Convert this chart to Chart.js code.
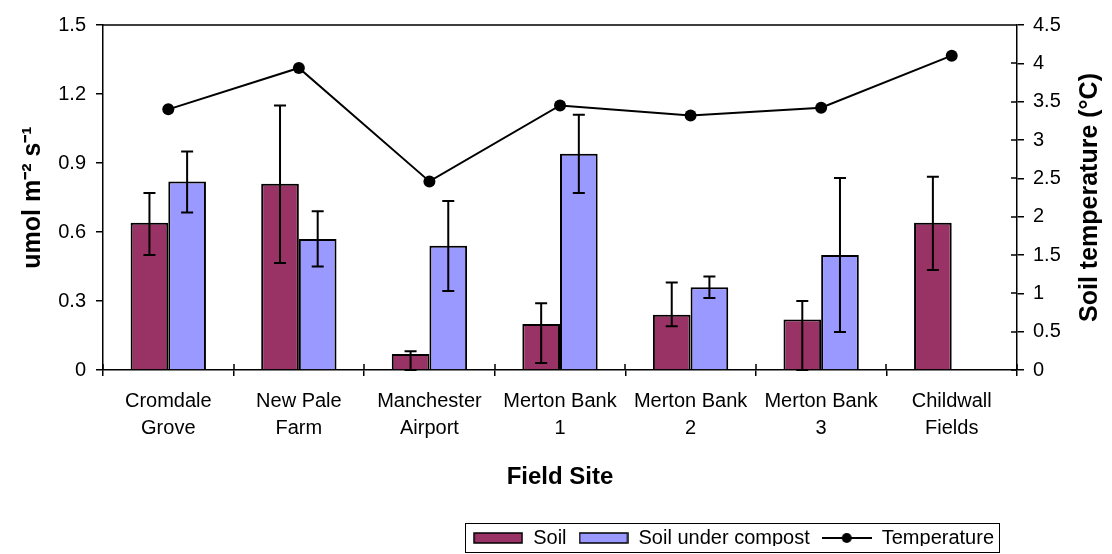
<!DOCTYPE html>
<html>
<head>
<meta charset="utf-8">
<script src="https://cdn.jsdelivr.net/npm/chart.js@4"></script>
<style>
  html, body { margin: 0; padding: 0; background: #fff; }
  #wrap { width: 1112px; height: 554px; }
</style>
</head>
<body>
<div id="wrap"><canvas id="chart"></canvas></div>
<script>
// field sites along the x axis
var sites = [
    ["Cromdale", "Grove"],
    ["New Pale", "Farm"],
    ["Manchester", "Airport"],
    ["Merton Bank", "1"],
    ["Merton Bank", "2"],
    ["Merton Bank", "3"],
    ["Childwall", "Fields"]
];

// soil respiration (umol m-2 s-1)
var soil = [0.64, 0.81, 0.07, 0.20, 0.24, 0.22, 0.64];
var soilErrUp = [0.13, 0.34, 0.012, 0.09, 0.14, 0.08, 0.20];
var soilErrDown = [0.14, 0.345, 0.07, 0.17, 0.05, 0.22, 0.205];

var compost = [0.82, 0.57, 0.54, 0.94, 0.36, 0.50, null];
var compostErrUp = [0.13, 0.12, 0.195, 0.17, 0.047, 0.335, null];
var compostErrDown = [0.135, 0.12, 0.197, 0.17, 0.047, 0.335, null];

// soil temperature (deg C), right axis
var temperature = [3.40, 3.94, 2.46, 3.45, 3.32, 3.42, 4.10];

var leftTicks = [0, 0.3, 0.6, 0.9, 1.2, 1.5];
var rightTicks = [0, 0.5, 1, 1.5, 2, 2.5, 3, 3.5, 4, 4.5];

var maroon = '#993366';
var lilac = '#9999FF';

Chart.defaults.font.family = "'Liberation Sans', Arial, sans-serif";
Chart.defaults.color = '#000';

// legend markers
function boxMarker(color) {
    var c = document.createElement('canvas');
    c.width = 50; c.height = 12;
    var g = c.getContext('2d');
    g.fillStyle = color;
    g.fillRect(1, 1, 48, 10);
    g.strokeStyle = '#000';
    g.lineWidth = 1.5;
    g.strokeRect(1, 1, 48, 10);
    return c;
}
function lineMarker() {
    var c = document.createElement('canvas');
    c.width = 50; c.height = 12;
    var g = c.getContext('2d');
    g.strokeStyle = '#000';
    g.lineWidth = 2;
    g.beginPath(); g.moveTo(0, 6); g.lineTo(50, 6); g.stroke();
    g.fillStyle = '#000';
    g.beginPath(); g.arc(25, 6, 5, 0, Math.PI * 2); g.fill();
    return c;
}
var markers = [boxMarker(maroon), boxMarker(lilac), lineMarker()];

var extras = {
    id: 'extras',
    afterLayout: function(chart) {
        var lg = chart.legend;
        lg.left = 460;
        lg.right = 1006;
        lg.top = 516;
        lg.bottom = 546;
    },
    afterDatasetsDraw: function(chart) {
        var ctx = chart.ctx;
        var y = chart.scales.y;
        var sets = [[0, soil, soilErrUp, soilErrDown], [1, compost, compostErrUp, compostErrDown]];
        ctx.save();
        ctx.strokeStyle = '#000';
        ctx.lineWidth = 2;
        sets.forEach(function(s) {
            var meta = chart.getDatasetMeta(s[0]);
            meta.data.forEach(function(bar, i) {
                if (s[1][i] == null) return;
                var x = bar.x;
                var top = y.getPixelForValue(s[1][i] + s[2][i]);
                var bot = y.getPixelForValue(Math.max(0, s[1][i] - s[3][i]));
                ctx.beginPath();
                ctx.moveTo(x, top); ctx.lineTo(x, bot);
                ctx.moveTo(x - 6, top); ctx.lineTo(x + 6, top);
                ctx.moveTo(x - 6, bot); ctx.lineTo(x + 6, bot);
                ctx.stroke();
            });
        });
        ctx.restore();
    },
    afterDraw: function(chart) {
        var ctx = chart.ctx;
        var a = chart.chartArea;
        var xs = chart.scales.x;
        var y1 = chart.scales.y1;
        ctx.save();
        ctx.strokeStyle = '#000';
        ctx.lineWidth = 1.5;
        ctx.beginPath();
        // top edge of the plot area
        ctx.moveTo(a.left, a.top); ctx.lineTo(a.right, a.top);
        // tick marks crossing into the plot, x axis and right axis
        var n = sites.length;
        var w = (xs.right - xs.left) / n;
        for (var i = 0; i <= n; i++) {
            var tx = Math.round(xs.left + i * w);
            ctx.moveTo(tx, a.bottom); ctx.lineTo(tx, a.bottom - 6);
        }
        rightTicks.forEach(function(v) {
            var ty = Math.round(y1.getPixelForValue(v));
            ctx.moveTo(a.right, ty); ctx.lineTo(a.right - 6, ty);
        });
        ctx.stroke();

        // right axis title, reading bottom to top
        ctx.translate(1090, (a.top + a.bottom) / 2);
        ctx.rotate(-Math.PI / 2);
        ctx.font = "bold 25px 'Liberation Sans', Arial, sans-serif";
        ctx.fillStyle = '#000';
        ctx.textAlign = 'center';
        ctx.textBaseline = 'middle';
        ctx.fillText('Soil temperature (\u00B0C)', 0, 0);
        ctx.restore();

        // legend frame
        var hb = chart.legend.legendHitBoxes;
        if (hb && hb.length) {
            var l = hb[0].left, r = 0, t = hb[0].top, b = 0;
            hb.forEach(function(h) {
                l = Math.min(l, h.left);
                r = Math.max(r, h.left + h.width);
                b = Math.max(b, h.top + h.height);
            });
            ctx.save();
            ctx.strokeStyle = '#000';
            ctx.lineWidth = 1;
            ctx.strokeRect(Math.round(l) - 7.5, Math.round(t) - 4.5, Math.round(r - l) + 13, Math.round(b - t) + 9);
            ctx.restore();
        }
    }
};

var ctx = document.getElementById('chart').getContext('2d');
var chart = new Chart(ctx, {
    type: 'bar',
    data: {
        labels: sites,
        datasets: [{
            label: 'Soil',
            data: soil,
            backgroundColor: maroon,
            borderColor: '#000',
            borderWidth: 2,
            yAxisID: 'y',
            order: 2
        }, {
            label: 'Soil under compost',
            data: compost,
            backgroundColor: lilac,
            borderColor: '#000',
            borderWidth: 2,
            yAxisID: 'y',
            order: 2
        }, {
            type: 'line',
            label: 'Temperature',
            data: temperature,
            borderColor: '#000',
            backgroundColor: '#000',
            borderWidth: 2,
            pointRadius: 6,
            pointBackgroundColor: '#000',
            pointBorderWidth: 0,
            tension: 0,
            yAxisID: 'y1',
            order: 1
        }]
    },
    options: {
        responsive: true,
        maintainAspectRatio: false,
        animation: false,
        layout: { padding: { top: 25, right: 0, bottom: 0, left: 0 } },
        datasets: {
            bar: { categoryPercentage: 0.577, barPercentage: 1 }
        },
        plugins: {
            tooltip: { enabled: false },
            legend: {
                position: 'bottom',
                align: 'end',
                labels: {
                    usePointStyle: true,
                    pointStyleWidth: 50,
                    padding: 12,
                    color: '#000',
                    font: { size: 20 },
                    generateLabels: function(chart) {
                        return chart.data.datasets.map(function(ds, i) {
                            return {
                                text: ds.label,
                                pointStyle: markers[i],
                                fillStyle: ds.backgroundColor,
                                strokeStyle: '#000',
                                lineWidth: 0,
                                hidden: false,
                                datasetIndex: i,
                                fontColor: '#000'
                            };
                        });
                    }
                }
            }
        },
        scales: {
            x: {
                afterFit: function(s) { s.height = 142; },
                grid: { drawOnChartArea: false, color: '#000', tickLength: 6, lineWidth: 1.5 },
                border: { color: '#000', width: 1.5 },
                ticks: { font: { size: 20, lineHeight: 1.35 }, padding: 12, maxRotation: 0, autoSkip: false },
                title: {
                    display: true,
                    text: 'Field Site',
                    font: { size: 24, weight: 'bold' },
                    padding: { top: 0, bottom: 20 }
                }
            },
            y: {
                position: 'left',
                min: 0,
                max: 1.5,
                afterFit: function(s) { s.width = 103; },
                afterBuildTicks: function(s) { s.ticks = leftTicks.map(function(v) { return { value: v }; }); },
                grid: { drawOnChartArea: false, color: '#000', tickLength: 7, lineWidth: 1.5 },
                border: { color: '#000', width: 1.5 },
                ticks: { font: { size: 20 }, padding: 10 },
                title: {
                    display: true,
                    text: 'umol m\u207B\u00B2 s\u207B\u00B9',
                    font: { size: 25, weight: 'bold' },
                    padding: { top: 18, bottom: 0 }
                }
            },
            y1: {
                position: 'right',
                min: 0,
                max: 4.5,
                afterFit: function(s) { s.width = 95; },
                afterBuildTicks: function(s) { s.ticks = rightTicks.map(function(v) { return { value: v }; }); },
                grid: { drawOnChartArea: false, color: '#000', tickLength: 7, lineWidth: 1.5 },
                border: { color: '#000', width: 1.5 },
                ticks: {
                    font: { size: 20 },
                    padding: 9,
                    callback: function(v) { return String(v); }
                }
            }
        }
    },
    plugins: [extras]
});
</script>
</body>
</html>
